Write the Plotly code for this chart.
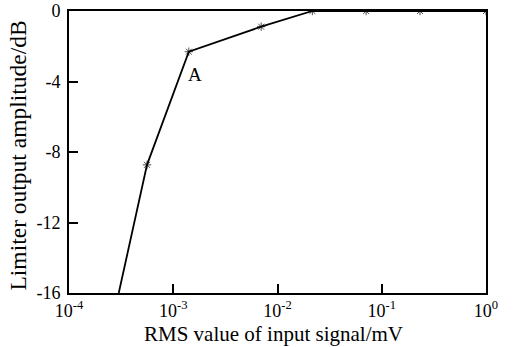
import math
import plotly.graph_objects as go

x_vals = [3.0e-4, 5.6e-4, 1.41e-3, 6.97e-3, 2.16e-2, 7.08e-2, 2.33e-1, 1.0]
y_vals = [-16.0, -8.73, -2.31, -0.89, 0.0, 0.0, 0.0, 0.0]
marker_sizes = [0, 7, 7, 7, 7, 7, 7, 7]

x_tickvals = [1e-4, 1e-3, 1e-2, 1e-1, 1e0]
x_ticktext = ["10<sup>-4</sup>", "10<sup>-3</sup>", "10<sup>-2</sup>", "10<sup>-1</sup>", "10<sup>0</sup>"]
y_tickvals = [0, -4, -8, -12, -16]
y_ticktext = ["0", "-4", "-8", "-12", "-16"]

label_text = "A"
label_x = 1.62e-3
label_y = -3.63

font_family = "Liberation Serif, Times New Roman, serif"

fig = go.Figure()
fig.add_trace(go.Scatter(
    x=x_vals, y=y_vals, mode="lines+markers",
    line=dict(color="black", width=1.8),
    marker=dict(symbol="asterisk-open", size=marker_sizes, color="black",
                line=dict(color="black", width=1)),
    cliponaxis=True, showlegend=False,
))

# annotations on a log axis take log10 coordinates
fig.add_annotation(x=math.log10(label_x), y=label_y, xref="x", yref="y", text=label_text,
                   showarrow=False, font=dict(family=font_family, size=19, color="black"))

fig.add_annotation(x=0.49, y=-0.095, xref="paper", yref="paper", yanchor="top",
                   text="RMS value of input signal/mV", showarrow=False,
                   font=dict(family=font_family, size=21, color="black"))
fig.add_annotation(x=-0.122, y=0.488, xref="paper", yref="paper", xanchor="center",
                   text="Limiter output amplitude/dB", showarrow=False, textangle=-90,
                   font=dict(family=font_family, size=23.5, color="black"))

axis_common = dict(showline=True, linecolor="black", linewidth=2, mirror=True,
                   ticks="inside", ticklen=9, tickwidth=1.5, tickcolor="black",
                   showgrid=False, zeroline=False, automargin=False,
                   tickfont=dict(family=font_family, size=18, color="black"))

fig.update_xaxes(type="log", range=[-4, 0], tickmode="array",
                 tickvals=x_tickvals, ticktext=x_ticktext, **axis_common)
fig.update_yaxes(range=[-16, 0], tickmode="array", ticklabelstandoff=3,
                 tickvals=y_tickvals, ticktext=y_ticktext, **axis_common)

fig.update_layout(width=513, height=347, margin=dict(l=69, r=27, t=11, b=54),
                  plot_bgcolor="white", paper_bgcolor="white",
                  font=dict(family=font_family, color="black"))

fig.write_html("out.html")
